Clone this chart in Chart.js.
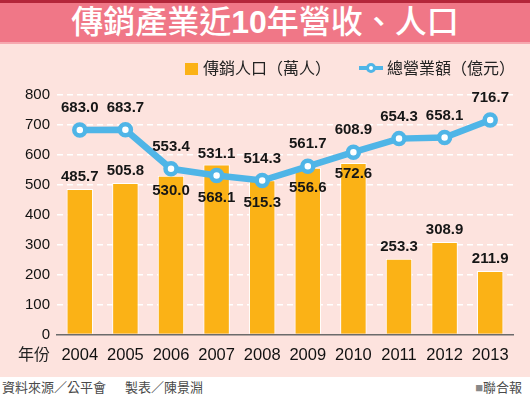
<!DOCTYPE html>
<html><head><meta charset="utf-8">
<script src="https://cdn.jsdelivr.net/npm/chart.js@4"></script>
<style>
html,body{margin:0;padding:0;width:530px;height:398px;overflow:hidden;background:#fff;font-family:"Liberation Sans","Noto Sans CJK TC",sans-serif;}
.abs{position:absolute;}
#strip{left:0;top:0;width:530px;height:3px;background:#b3263a;}
#banner{left:0;top:3px;width:530px;height:39px;background:#f07787;color:#fff;font-weight:500;font-size:32px;line-height:39px;text-align:center;border-bottom:2px solid #f6a9b0;}
#banner b{font-weight:bold;}
#panel{left:0;top:44px;width:530px;height:333px;background:#fde3de;}
#cv{left:0;top:44px;}
.lg{font-size:16px;line-height:20px;color:#222;white-space:nowrap;}
#sq{left:185px;top:63px;width:13px;height:12px;background:#fbb216;}
#ln{left:359px;top:66px;width:24px;height:4px;background:#4fb5e7;}
#dot{left:366px;top:63px;width:4px;height:4px;border:3px solid #4fb5e7;border-radius:50%;background:#fff;}
#yearlbl{left:18px;top:345px;font-size:16px;line-height:20px;color:#222;}
.ft{top:380px;font-size:13px;line-height:16px;color:#4a4a4a;white-space:nowrap;}
</style></head>
<body>
<div id="strip" class="abs"></div>
<div id="banner" class="abs">傳銷產業近<b>10</b>年營收、人口</div>
<div id="panel" class="abs"></div>
<canvas id="cv" class="abs" width="530" height="333"></canvas>
<div id="sq" class="abs"></div>
<div class="abs lg" style="left:203px;top:59px;">傳銷人口（萬人）</div>
<div id="ln" class="abs"></div>
<div id="dot" class="abs"></div>
<div class="abs lg" style="left:387px;top:59px;">總營業額（億元）</div>
<div id="yearlbl" class="abs">年份</div>
<div class="abs ft" style="left:2px;">資料來源／公平會</div>
<div class="abs ft" style="left:125px;">製表／陳景淵</div>
<div class="abs ft" style="right:8px;"><span style="color:#888">■</span>聯合報</div>
<script>
const years = ['2004','2005','2006','2007','2008','2009','2010','2011','2012','2013'];
const population = [485.7, 505.8, 530.0, 568.1, 515.3, 556.6, 572.6, 253.3, 308.9, 211.9];
const revenue = [683.0, 683.7, 553.4, 531.1, 514.3, 561.7, 608.9, 654.3, 658.1, 716.7];
const yTickValues = [0, 100, 200, 300, 400, 500, 600, 700, 800];
const seriesNames = ['總營業額（億元）', '傳銷人口（萬人）'];

const FONT = '"Liberation Sans", Arial, "Noto Sans CJK TC", sans-serif';
const BLUE = '#4fb5e7', ORANGE = '#fbb216';

const labelPlugin = {
  id: 'valueLabels',
  afterDatasetsDraw(chart) {
    const ctx = chart.ctx;
    const lineMeta = chart.getDatasetMeta(0), barMeta = chart.getDatasetMeta(1);
    ctx.save();
    ctx.font = 'bold 15px ' + FONT;
    ctx.fillStyle = '#161616';
    ctx.textAlign = 'center';
    ctx.textBaseline = 'middle';
    barMeta.data.forEach((bar, i) => {
      const pt = lineMeta.data[i];
      let y = bar.y - 12;
      if (Math.abs(y - pt.y) < 30) y = Math.max(bar.y + 11, pt.y + 22);
      ctx.fillText(population[i].toFixed(1), bar.x, y);
    });
    lineMeta.data.forEach((pt, i) => {
      ctx.fillText(revenue[i].toFixed(1), pt.x, pt.y - 22);
    });
    ctx.restore();
  }
};

new Chart(document.getElementById('cv'), {
  type: 'bar',
  data: {
    labels: years,
    datasets: [
      { type: 'line', label: seriesNames[0], data: revenue, order: 0,
        borderColor: BLUE, borderWidth: 6.5, tension: 0,
        pointRadius: 5.5, pointBorderWidth: 4.5, pointBackgroundColor: '#fff', pointBorderColor: BLUE,
        pointHoverRadius: 5.5 },
      { type: 'bar', label: seriesNames[1], data: population, order: 1,
        backgroundColor: ORANGE, borderColor: '#ffffff', borderWidth: 1,
        barPercentage: 0.58, categoryPercentage: 1.0 }
    ]
  },
  options: {
    responsive: false,
    devicePixelRatio: 1,
    animation: false,
    layout: { padding: { top: 51, left: 0, right: 17, bottom: 0 } },
    plugins: { legend: { display: false }, tooltip: { enabled: false } },
    scales: {
      x: {
        grid: { display: false, drawTicks: false },
        border: { display: true, color: '#6b6b6b', width: 1.5 },
        ticks: { padding: 11, color: '#111', font: { size: 16.5, family: FONT } },
        afterFit(s) { s.height = 42.5; }
      },
      y: {
        min: 0, max: 800,
        afterBuildTicks(s) { s.ticks = yTickValues.map(v => ({ value: v })); },
        grid: { color: c => (c.tick && c.tick.value === 0) ? 'rgba(0,0,0,0)' : '#ffffff', lineWidth: 1.5, drawTicks: false },
        border: { display: false, dash: [6, 4] },
        ticks: { padding: 7, color: '#111', font: { size: 15, family: FONT } },
        afterFit(s) { s.width = 57; }
      }
    }
  },
  plugins: [labelPlugin]
});
</script>
</body></html>
